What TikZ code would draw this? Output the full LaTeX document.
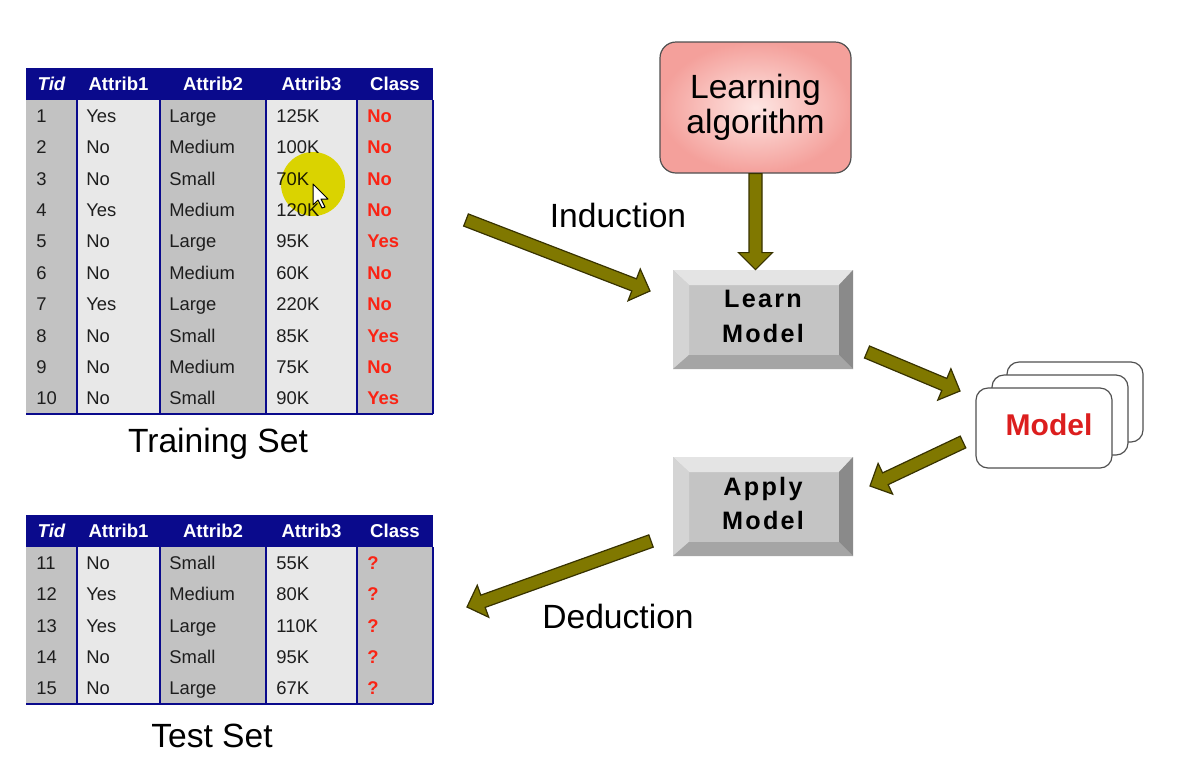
\documentclass[tikz,border=0pt]{standalone}
\usepackage{fontspec}
\setmainfont{Liberation Sans}
\newfontfamily\btnfont[LetterSpace=9]{Liberation Sans}
\usetikzlibrary{calc}

\definecolor{navy}{RGB}{10,10,140}
\definecolor{coldark}{RGB}{194,194,194}
\definecolor{collight}{RGB}{232,232,232}
\definecolor{clsred}{RGB}{250,35,20}
\definecolor{celltext}{RGB}{30,30,30}
\definecolor{olivearrow}{RGB}{128,120,0}
\definecolor{olivedark}{RGB}{55,50,0}
\definecolor{pinkedge}{RGB}{244,160,155}
\definecolor{pinkcore}{RGB}{254,230,227}
\definecolor{modelred}{RGB}{220,30,30}
\definecolor{bvtop}{RGB}{228,228,228}
\definecolor{bvleft}{RGB}{212,212,212}
\definecolor{bvright}{RGB}{138,138,138}
\definecolor{bvbottom}{RGB}{165,165,165}
\definecolor{bvface}{RGB}{196,196,196}
\definecolor{cardline}{RGB}{80,80,80}
\definecolor{highlight}{RGB}{240,232,0}

% one data table: #1 name prefix, #2 top edge, #3 number of rows, #4 rows
\newcommand\datatable[4]{%
  \pgfmathsetmacro\hbot{#2+32}%
  \pgfmathsetmacro\tbot{\hbot+#3*31.4}%
  \fill[navy] (26,#2) rectangle (433,\hbot);
  \foreach \xa/\xb/\cc in {26/77/coldark,77/160/collight,160/266/coldark,266/357/collight,357/433/coldark}
    \fill[\cc] (\xa,\hbot) rectangle (\xb,\tbot);
  \foreach \xx in {77,160,266,357,433}
    \draw[rule] (\xx,\hbot) -- (\xx,\tbot);
  \draw[rule] (26,\tbot) -- (433,\tbot);
  \foreach \hd/\cx [count=\k] in {{\itshape Tid}/51.5,Attrib1/118.5,Attrib2/213,Attrib3/311.5,Class/395}
    \node[hcell] (#1-h\k) at (\cx,{#2+16}) {\hd};
  \foreach \va/\vb/\vc/\vd/\ve [count=\ri] in {#4} {
    \pgfmathsetmacro\yy{\hbot+(\ri-0.5)*31.4}
    \node[cell] (#1-\ri-1) at (36,\yy) {\va};
    \node[cell] (#1-\ri-2) at (86,\yy) {\vb};
    \node[cell] (#1-\ri-3) at (169,\yy) {\vc};
    \node[cell] (#1-\ri-4) at (276,\yy) {\vd};
    \node[cell,text=clsred,font=\bfseries\fontsize{9.2}{11}\selectfont] (#1-\ri-5) at (367,\yy) {\ve};
  }
}

% thick olive block arrow: #1 head length, #2 tail, #3 tip
\newcommand\fatarrow[3][8.5pt]{%
  \coordinate (fa-h) at ($(#3)!#1!(#2)$);
  \path[blockarrow]
    ($(#2)!3.25pt!90:(#3)$) -- ($(fa-h)!3.25pt!90:(#3)$) -- ($(fa-h)!8.5pt!90:(#3)$)
    -- (#3) -- ($(fa-h)!8.5pt!-90:(#3)$) -- ($(fa-h)!3.25pt!-90:(#3)$)
    -- ($(#2)!3.25pt!-90:(#3)$) -- cycle;
}

\begin{document}
\begin{tikzpicture}[x=0.5pt,y=-0.5pt,
  rule/.style={draw=navy,line width=0.8pt},
  cell/.style={inner sep=0pt,anchor=west,text height=6.6pt,text depth=0pt,
    text=celltext,font=\fontsize{9.2}{11}\selectfont},
  hcell/.style={inner sep=0pt,text height=6.7pt,text depth=0pt,text=white,
    font=\bfseries\fontsize{9.3}{11}\selectfont},
  biglabel/.style={inner sep=0pt,text height=12pt,text depth=0pt,
    font=\fontsize{16.8}{20}\selectfont},
  blockarrow/.style={fill=olivearrow,draw=olivedark,line width=0.6pt,line join=miter},
  algo/.style={draw=cardline,line width=0.6pt,rounded corners=8pt,
    inner color=pinkcore,outer color=pinkedge,
    minimum width=95.5pt,minimum height=65.5pt,align=center,
    font=\fontsize{16.8}{17.5}\selectfont},
  button/.style={fill=bvface,minimum width=90pt,minimum height=49.5pt,inner sep=0pt,
    align=center,font=\btnfont\bfseries\fontsize{12.6}{17.8}\selectfont,
    path picture={
      \fill[bvtop] (path picture bounding box.north west) -- (path picture bounding box.north east)
        -- ([shift={(-7pt,-7.5pt)}]path picture bounding box.north east)
        -- ([shift={(8pt,-7.5pt)}]path picture bounding box.north west) -- cycle;
      \fill[bvleft] (path picture bounding box.north west)
        -- ([shift={(8pt,-7.5pt)}]path picture bounding box.north west)
        -- ([shift={(8pt,7pt)}]path picture bounding box.south west)
        -- (path picture bounding box.south west) -- cycle;
      \fill[bvright] (path picture bounding box.north east)
        -- ([shift={(-7pt,-7.5pt)}]path picture bounding box.north east)
        -- ([shift={(-7pt,7pt)}]path picture bounding box.south east)
        -- (path picture bounding box.south east) -- cycle;
      \fill[bvbottom] (path picture bounding box.south west)
        -- ([shift={(8pt,7pt)}]path picture bounding box.south west)
        -- ([shift={(-7pt,7pt)}]path picture bounding box.south east)
        -- (path picture bounding box.south east) -- cycle;
    }},
  card/.style={draw=cardline,fill=white,line width=0.6pt,rounded corners=6pt,
    minimum width=68pt,minimum height=40pt}]
\useasboundingbox (0,0) rectangle (1177,773);

% training and test tables
\datatable{train}{68}{10}{1/Yes/Large/125K/No,2/No/Medium/100K/No,3/No/Small/70K/No,
  4/Yes/Medium/120K/No,5/No/Large/95K/Yes,6/No/Medium/60K/No,7/Yes/Large/220K/No,
  8/No/Small/85K/Yes,9/No/Medium/75K/No,10/No/Small/90K/Yes}
\datatable{test}{515}{5}{11/No/Small/55K/?,12/Yes/Medium/80K/?,13/Yes/Large/110K/?,
  14/No/Small/95K/?,15/No/Large/67K/?}

% pointer highlight with cursor
\fill[highlight,blend mode=multiply] (313,184) circle[radius=16pt];
\draw[fill=white,draw=black,line width=0.5pt,line join=round]
  (313,184) -- (313,205) -- (318,200) -- (322,208) -- (325,207) -- (321,199) -- (328,199) -- cycle;

\node[biglabel] (trainlbl) at (218,440) {Training Set};
\node[biglabel] (testlbl) at (212,735) {Test Set};
\node[biglabel] (indlbl) at (618,215) {Induction};
\node[biglabel] (dedlbl) at (618,616) {Deduction};

% learner and model boxes
\node[algo] (la) at (755.5,107.5) {Learning\\algorithm};
\node[button] (lm) at (763,319.5) {\raisebox{3pt}{Learn}\\\raisebox{3pt}{Model}};
\node[button] (am) at (763,506.5) {\raisebox{2pt}{Apply}\\\raisebox{3pt}{Model}};
\node[card] (mdl3) at (1075,402) {};
\node[card] (mdl2) at (1060,415) {};
\node[card] (mdl) at (1044,428) {};
\node[text=modelred,font=\bfseries\fontsize{15}{18}\selectfont,inner sep=0pt] (mdltxt) at (1049,425) {Model};

% flow arrows
\coordinate (la-in) at (la.south |- lm.north);
\coordinate (ind-a) at (466,220);
\coordinate (ind-b) at (650,291);
\coordinate (mo-a) at (867,352);
\coordinate (mo-b) at (960,391);
\coordinate (mi-a) at (963,442);
\coordinate (mi-b) at (870,486);
\coordinate (de-a) at (651,541);
\coordinate (de-b) at (467,607);
\fatarrow{la.south}{la-in}
\fatarrow{ind-a}{ind-b}
\fatarrow{mo-a}{mo-b}
\fatarrow{mi-a}{mi-b}
\fatarrow{de-a}{de-b}
\end{tikzpicture}
\end{document}
